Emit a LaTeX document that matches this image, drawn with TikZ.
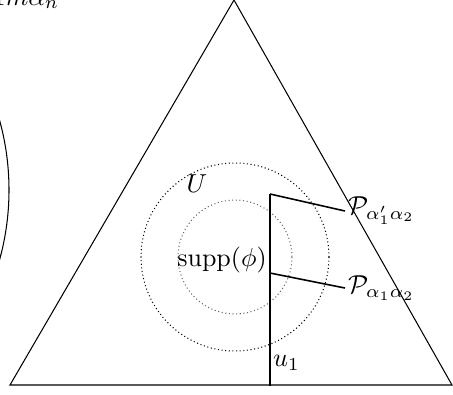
\documentclass[tikz,border=0pt]{standalone}
\usepackage{amsmath}
\usetikzlibrary{positioning}
\tikzset{ring/.style={densely dotted,draw=black}, ringin/.style={densely dotted,draw=black!60}, seg/.style={semithick}, lbl/.style={inner sep=1pt}}

\begin{document}
\begin{tikzpicture}[x=0.01352cm,y=-0.01352cm]
\clip (0,0) rectangle (453,394);
% simplex and far boundary
\draw (10,385) -- (234,0) -- (452,385) -- cycle;
\draw (-252,190) circle (261);
\node[anchor=base west,inner sep=0pt] (far) at (-8,5) {$1m\alpha_n$};
% neighbourhoods
\coordinate (o) at (235,257);
\draw[ring] (o) circle (94);
\draw[ringin] (o) circle (57);
\node (U) at (197,184) {$U$};
\node (supp) at (222,260) {$\operatorname{supp}(\phi)$};
% coordinate line u_1
\coordinate (top) at (270,194);
\coordinate (mid) at (270,273);
\coordinate (bot) at (270,386);
\draw (top) -- (bot);
\node[lbl,anchor=west] (u) at (270,363) {$u_1$};
\node[lbl,anchor=west] (pa) at (345,211) {$\mathcal{P}_{\alpha'_1\alpha_2}$};
\node[lbl,anchor=west] (pb) at (345,288) {$\mathcal{P}_{\alpha_1\alpha_2}$};
\draw[seg] (top) -- (pa.west);
\draw[seg] (mid) -- (pb.west);
\end{tikzpicture}
\end{document}
